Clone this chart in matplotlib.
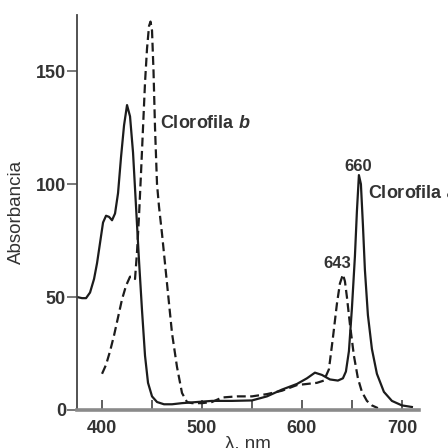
import matplotlib
matplotlib.use("Agg")
import matplotlib.pyplot as plt

plt.rcParams['font.family'] = ['Liberation Sans', 'DejaVu Sans']
plt.rcParams['font.weight'] = 'bold'
plt.rcParams['mathtext.fontset'] = 'custom'
plt.rcParams['mathtext.rm'] = 'Liberation Sans:bold'
plt.rcParams['mathtext.it'] = 'Liberation Sans:italic:bold'

# Clorofila a (solid)
wl_a = [375, 380, 384, 388, 392, 395, 398, 401, 404, 407, 410, 413, 416, 419, 422, 425,
        428, 431, 434, 437, 440, 443, 446, 450, 455, 462, 470, 480, 495, 510, 530, 550,
        565, 580, 595, 605, 613, 620, 628, 636, 641, 644, 647, 650, 653, 655, 657, 659,
        661, 663, 666, 670, 675, 682, 690, 700, 710]
abs_a = [50, 49.5, 49.5, 52, 58, 65, 74, 83, 86, 85.5, 84, 87, 96, 112, 126, 135,
         130, 114, 90, 66, 44, 24, 12, 6, 3.5, 2.5, 2.5, 3, 3.5, 4, 4, 4.2,
         6, 9, 11.5, 14, 16.5, 15.5, 13.5, 13, 14, 17, 26, 45, 68, 88, 104, 100,
         82, 62, 42, 27, 16, 8, 4, 2, 1.3]

# Clorofila b (dashed)
wl_b = [400, 404, 408, 412, 416, 420, 424, 428, 431, 433, 435, 437, 439, 441, 443, 445,
        447, 448.5, 450, 451.5, 453, 455, 457, 460, 465, 470, 475, 480, 485, 490, 500,
        510, 520, 535, 550, 565, 580, 595, 605, 615, 622, 627, 631, 635, 638, 641, 643,
        645, 648, 652, 656, 660, 665, 670, 676]
abs_b = [16, 20, 26, 33, 41, 49, 55, 59, 59, 58, 70, 86, 105, 125, 145, 160,
         170, 172, 168, 150, 125, 100, 90, 78, 56, 34, 19, 7.5, 3.5, 3, 3,
         3.5, 5.5, 6, 6, 7, 8.5, 11, 11.5, 12, 13, 18, 32, 47, 56, 60, 57,
         50, 38, 24, 14, 8, 4, 2, 0.8]

x_major = [400, 500, 600, 700]
x_minor = [450, 550, 650]
y_ticks = [0, 50, 100, 150]

ink = '#1c1c1c'
txt = '#333333'

fig = plt.figure(figsize=(4.48, 4.48), dpi=100)
ax = fig.add_axes([0.172, 0.085, 0.763, 0.882])

ax.plot(wl_a, abs_a, color=ink, lw=1.6, solid_joinstyle='round')
ax.plot(wl_b, abs_b, color=ink, lw=1.6, dashes=(4, 2))

ax.set_xlim(375, 717)
ax.set_ylim(0, 175)

for s in ['top', 'right']:
    ax.spines[s].set_visible(False)
ax.spines['left'].set_color('#444444')
ax.spines['left'].set_linewidth(1.3)
ax.spines['bottom'].set_color('#8a8a8a')
ax.spines['bottom'].set_linewidth(2.6)

ax.set_xticks(x_major)
ax.set_xticks(x_minor, minor=True)
ax.set_yticks(y_ticks)
ax.tick_params(axis='x', which='both', direction='in', length=7, width=1.1,
               color='#333333', labelsize=13, labelcolor=txt, pad=7)
ax.tick_params(axis='y', direction='out', length=7, width=1.1, color='#555555',
               labelsize=13, labelcolor=txt, pad=1)

ax.set_xlabel('λ, nm', fontsize=13.5, color=txt, labelpad=-1)
ax.set_ylabel('Absorbancia', fontsize=13.5, color=txt, labelpad=8)

ax.text(458, 127, r'Clorofila $\it{b}$', fontsize=13, color=txt, ha='left', va='center')
ax.text(666, 96, r'Clorofila $\it{a}$', fontsize=13, color=txt, ha='left', va='center',
        clip_on=False)
ax.text(656, 108, '660', fontsize=12, color=txt, ha='center', va='center')
ax.text(635, 65, '643', fontsize=12, color=txt, ha='center', va='center')

fig.savefig('out.png', dpi=100)
